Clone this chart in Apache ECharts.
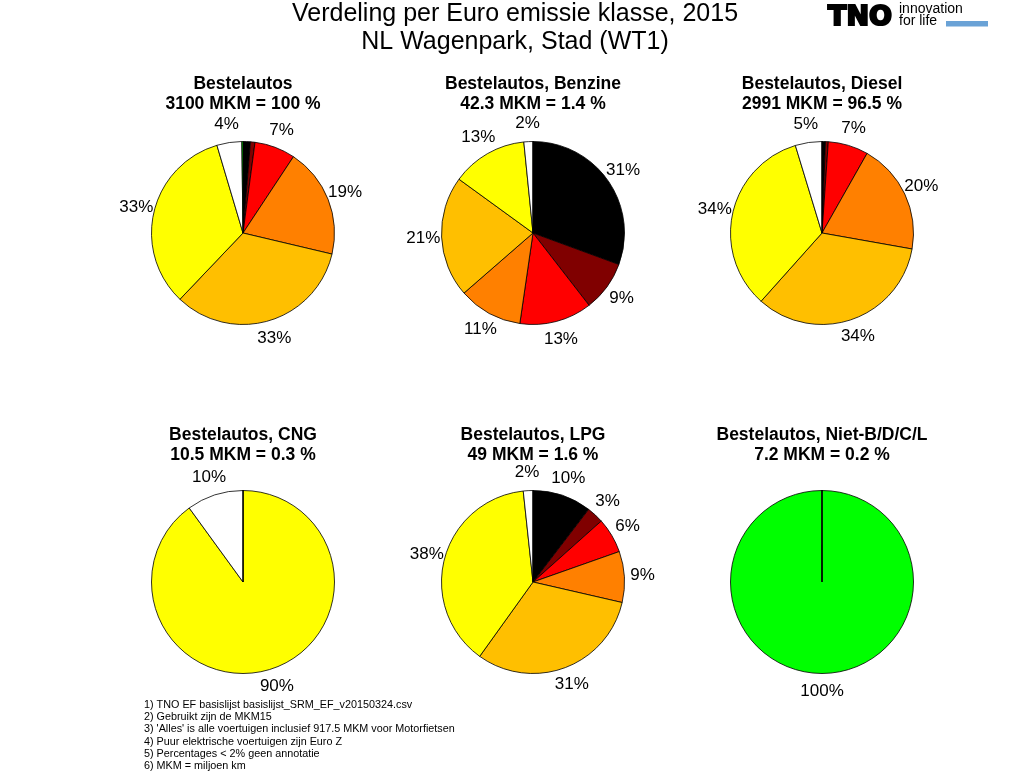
<!DOCTYPE html>
<html>
<head>
<meta charset="utf-8">
<script src="https://cdn.jsdelivr.net/npm/echarts@6/dist/echarts.min.js"></script>
<style>
  html, body { margin: 0; padding: 0; background: #ffffff; }
  #chart { width: 1030px; height: 772px; }
</style>
</head>
<body>
<div id="chart"></div>
<script>
// Euro emission classes (slice order, clockwise from 12 o'clock)
const categories = ['Euro 0', 'Euro 1', 'Euro 2', 'Euro 3', 'Euro 4', 'Euro 5', 'Euro 6', 'Niet-B/D/C/L'];
const classColors = ['#000000', '#800000', '#ff0000', '#ff8000', '#ffbf00', '#ffff00', '#ffffff', '#00ff00'];

// Share (%) per class for each pie
const allesValues   = [1.3, 0.8, 7.2, 19.4, 33.4, 33.3, 4.4, 0.2];
const benzineValues = [30.6, 8.9, 12.8, 11.3, 21.4, 13.4, 1.6, 0];
const dieselValues  = [0.6, 0.5, 7.1, 19.6, 33.8, 33.7, 4.7, 0];
const cngValues     = [0, 0, 0, 0, 0, 90, 10, 0];
const lpgValues     = [10.4, 3.0, 6.2, 9.0, 31.3, 38.4, 1.7, 0];
const overigValues  = [0, 0, 0, 0, 0, 0, 0, 100];
const overigSliver  = 0.01;  // invisible sliver so the slice edge shows at 12 o'clock

const pieTitles = ['Bestelautos', 'Bestelautos, Benzine', 'Bestelautos, Diesel',
                   'Bestelautos, CNG', 'Bestelautos, LPG', 'Bestelautos, Niet-B/D/C/L'];
const pieSubtitles = ['3100 MKM = 100 %', '42.3 MKM = 1.4 %', '2991 MKM = 96.5 %',
                      '10.5 MKM = 0.3 %', '49 MKM = 1.6 %', '7.2 MKM = 0.2 %'];

const mainTitle = 'Verdeling per Euro emissie klasse, 2015\nNL Wagenpark, Stad (WT1)';
const footnotes = [
  '1) TNO EF basislijst basislijst_SRM_EF_v20150324.csv',
  '2) Gebruikt zijn de MKM15',
  "3) 'Alles' is alle voertuigen inclusief 917.5 MKM voor Motorfietsen",
  '4) Puur elektrische voertuigen zijn Euro Z',
  '5) Percentages < 2% geen annotatie',
  '6) MKM = miljoen km'
];

const pieValues = [allesValues, benzineValues, dieselValues, cngValues, lpgValues, overigValues];

// layout
const colX = [243, 533, 822];
const rowY = [233, 582];
const titleTop = [74, 425];
const pieRadius = 91.5;
const labelRadiusFactor = 1.2;
const FONT = 'Liberation Sans, Arial, Helvetica, sans-serif';

function pieCenter(i) { return [colX[i % 3], rowY[Math.floor(i / 3)]]; }

const titles = [{
  text: mainTitle,
  left: 515, top: 0, textAlign: 'center', padding: 0,
  textStyle: { fontFamily: FONT, fontSize: 25, fontWeight: 'normal', color: '#000', lineHeight: 28 }
}];
const series = [];
pieValues.forEach(function (vals, i) {
  const c = pieCenter(i);
  titles.push({
    text: pieTitles[i] + '\n' + pieSubtitles[i],
    left: c[0], top: titleTop[Math.floor(i / 3)], textAlign: 'center', padding: 0,
    textStyle: { fontFamily: FONT, fontSize: 17.5, fontWeight: 'bold', color: '#000', lineHeight: 20 }
  });
  const data = vals.map(function (v, k) {
    return { name: categories[k], value: v, itemStyle: { color: classColors[k] } };
  });
  if (i === 5) {
    data.push({ name: 'Euro 6 ', value: overigSliver, itemStyle: { color: classColors[6] } });
  }
  series.push({
    type: 'pie',
    center: c,
    radius: [0, pieRadius],
    startAngle: 90,
    clockwise: true,
    minAngle: 0,
    avoidLabelOverlap: false,
    silent: true,
    animation: false,
    itemStyle: { borderColor: '#000', borderWidth: 0.8 },
    label: {
      show: true,
      position: 'outside',
      fontFamily: FONT,
      fontSize: 17,
      color: '#000',
      formatter: function (p) {
        const r = Math.round(p.percent);
        return r < 2 ? '' : r + '%';
      }
    },
    labelLine: { show: true, length: 10, length2: 5, lineStyle: { opacity: 0, width: 0 } },
    // centre each percentage label on the slice's mid-angle ray, 1.2 x radius out
    labelLayout: function (params) {
      const pts = params.labelLinePoints;
      if (!pts) return {};
      const cc = pieCenter(params.seriesIndex);
      const dx = pts[0][0] - cc[0], dy = pts[0][1] - cc[1];
      return {
        x: cc[0] + dx * labelRadiusFactor,
        y: cc[1] + dy * labelRadiusFactor,
        align: 'center',
        verticalAlign: 'middle'
      };
    },
    data: data
  });
});

const chart = echarts.init(document.getElementById('chart'), null, { renderer: 'canvas' });
chart.setOption({
  backgroundColor: '#ffffff',
  animation: false,
  title: titles,
  series: series,
  graphic: [
    { type: 'text', left: 827, top: 3,
      style: { text: 'TNO', fontFamily: 'DejaVu Sans', fontWeight: 'bold', fontSize: 27, fill: '#000',
               stroke: '#000', lineWidth: 2.2 } },
    { type: 'text', left: 899, top: 2,
      style: { text: 'innovation\nfor life', fontFamily: FONT, fontSize: 14, lineHeight: 12.5, fill: '#000' } },
    { type: 'rect', shape: { x: 946, y: 21, width: 42, height: 5.5 }, style: { fill: '#6aa2d6' } },
    { type: 'text', left: 144, top: 699,
      style: { text: footnotes.join('\n'), fontFamily: FONT, fontSize: 10.8, lineHeight: 12.2, fill: '#000' } }
  ]
});
</script>
</body>
</html>
